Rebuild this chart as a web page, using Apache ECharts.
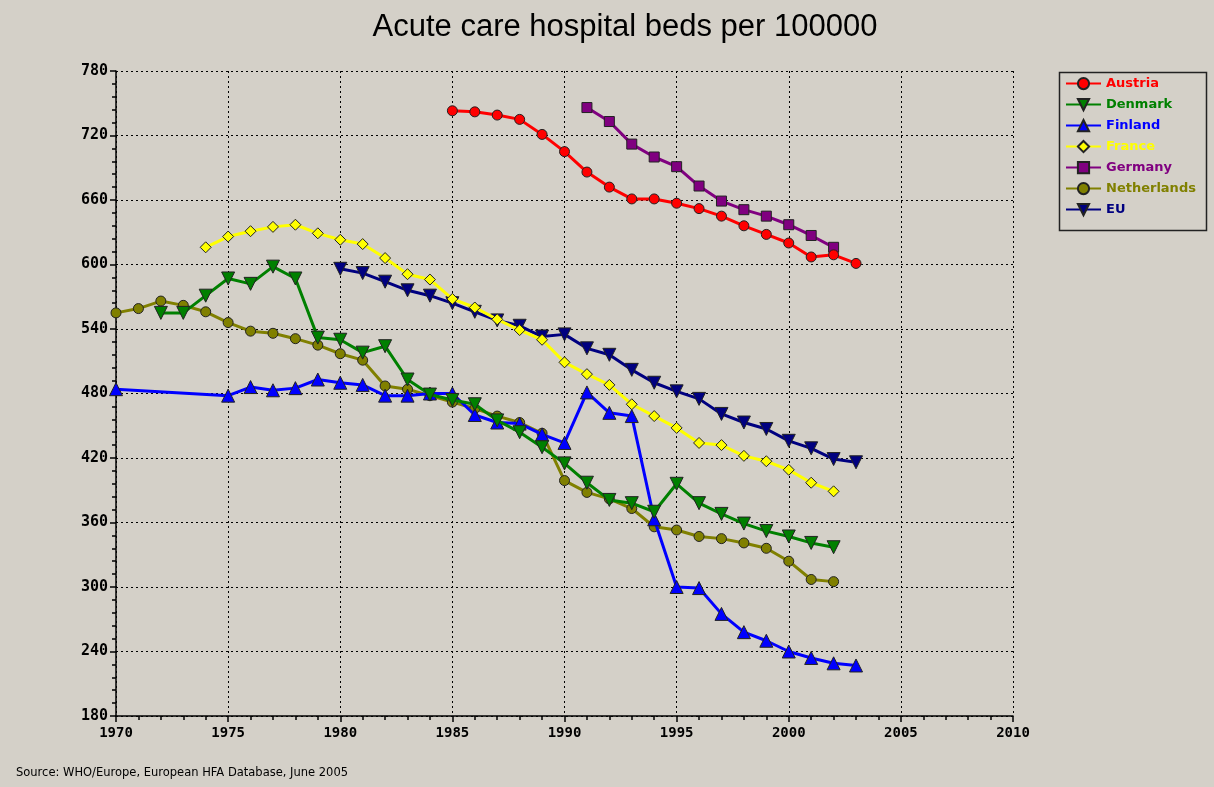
<!DOCTYPE html>
<html>
<head>
<meta charset="utf-8">
<script src="https://cdn.jsdelivr.net/npm/echarts@6/dist/echarts.min.js"></script>
<style>
html,body{margin:0;padding:0;background:#D4D0C8;}
#chart{width:1214px;height:787px;}
</style>
</head>
<body>
<div id="chart"></div>
<script>
var years = [1970,1971,1972,1973,1974,1975,1976,1977,1978,1979,1980,1981,1982,1983,1984,1985,1986,1987,1988,1989,1990,1991,1992,1993,1994,1995,1996,1997,1998,1999,2000,2001,2002,2003];
var austria = [null,null,null,null,null,null,null,null,null,null,null,null,null,null,null,743,742,739,735,721,705,686,672,661,661,657,652,645,636,628,620,607,609,601];
var denmark = [null,null,555,555,571,587,582,598,587,532,530,518,524,493,479,474,470,455,444,430,415,397,381,378,370,396,378,368,359,352,347,341,337,null];
var finland = [484,null,null,null,null,478,486,483,485,493,490,488,478,478,480,480,460,453,452,442,434,481,462,459,363,300,299,275,258,250,240,234,229,227];
var france = [null,null,null,null,616,626,631,635,637,629,623,619,606,591,586,568,560,549,539,530,509,498,488,470,459,448,434,432,422,417,409,397,389,null];
var germany = [null,null,null,null,null,null,null,null,null,null,null,null,null,null,null,null,null,null,null,null,null,746,733,712,700,691,673,659,651,645,637,627,616,null];
var netherlands = [555,559,566,562,556,546,538,536,531,525,517,511,487,484,478,472,466,459,453,443,399,388,382,373,356,353,347,345,341,336,324,307,305,null];
var eu = [null,null,null,null,null,null,null,null,null,null,596,592,584,576,571,564,556,548,543,533,535,522,516,502,490,482,475,461,453,447,436,429,419,416];
var seriesNames = ['Austria','Denmark','Finland','France','Germany','Netherlands','EU'];
var seriesValues = [austria, denmark, finland, france, germany, netherlands, eu];
var colors = ['#FF0000','#008000','#0000FF','#FFFF00','#800080','#808000','#000080'];
var symbols = ['circle','triangle','triangle','diamond','rect','circle','triangle'];
var rotates = [0,180,0,0,0,0,180];
var sizes = [10,13,13,11,10,10,13];

function pairs(vals){
  return years.map(function(y,i){ return [y, vals[i]]; });
}

var chart = echarts.init(document.getElementById('chart'));
var series = seriesNames.map(function(n,i){
  return {
    name: n,
    type: 'line',
    data: pairs(seriesValues[i]),
    connectNulls: true,
    symbol: symbols[i],
    symbolSize: sizes[i],
    symbolRotate: rotates[i],
    showAllSymbol: true,
    lineStyle: {color: colors[i], width: 3},
    itemStyle: {color: colors[i], borderColor: '#222', borderWidth: 1},
    emphasis: {disabled: true},
    animation: false,
    z: 10 - i
  };
});

var axisLabelStyle = {color:'#000', fontFamily:'DejaVu Sans Mono', fontWeight:'bold', fontSize:14};

chart.setOption({
  backgroundColor: '#D4D0C8',
  animation: false,
  title: {
    text: 'Acute care hospital beds per 100000',
    left: 620, top: 7, textAlign: 'center',
    textStyle: {fontFamily:'Liberation Sans', fontWeight:'normal', fontSize:31, color:'#000'}
  },
  grid: {left:116, right:201, top:71, bottom:71, containLabel:false},
  xAxis: {
    type: 'value', min: 1970, max: 2010, interval: 5,
    axisLine: {show:true, lineStyle:{color:'#000', width:1.5}},
    axisTick: {show:true, length:6, lineStyle:{color:'#000', width:1.5}},
    minorTick: {show:true, splitNumber:5, length:4, lineStyle:{color:'#000', width:1.5}},
    splitLine: {show:true, lineStyle:{color:'#000', type:[2,3], width:1}},
    axisLabel: Object.assign({margin:10, formatter: function(v){return String(v);}}, axisLabelStyle)
  },
  yAxis: {
    type: 'value', min: 180, max: 780, interval: 60,
    axisLine: {show:true, lineStyle:{color:'#000', width:1.5}},
    axisTick: {show:true, length:6, lineStyle:{color:'#000', width:1.5}},
    minorTick: {show:true, splitNumber:5, length:4, lineStyle:{color:'#000', width:1.5}},
    splitLine: {show:true, lineStyle:{color:'#000', type:[2,3], width:1}},
    axisLabel: Object.assign({margin:8}, axisLabelStyle, {fontSize:15})
  },
  legend: {
    orient: 'vertical', left: 1065, top: 77, padding: 0,
    itemWidth: 35, itemHeight: 14, itemGap: 7.8,
    data: seriesNames.map(function(n,i){
      return {name:n, textStyle:{color: colors[i]}};
    }),
    textStyle: {fontFamily:'DejaVu Sans', fontWeight:'bold', fontSize:13},
    selectedMode: false
  },
  graphic: [
    {type:'rect', left:1057, top:70, shape:{width:147, height:158},
     style:{fill:'none', stroke:'#222', lineWidth:1.5}, z:0},
    {type:'text', left:16, top:767,
     style:{text:'Source: WHO/Europe, European HFA Database, June 2005', fill:'#000',
            font:'11.5px "DejaVu Sans"'}}
  ],
  series: series
});
</script>
</body>
</html>
